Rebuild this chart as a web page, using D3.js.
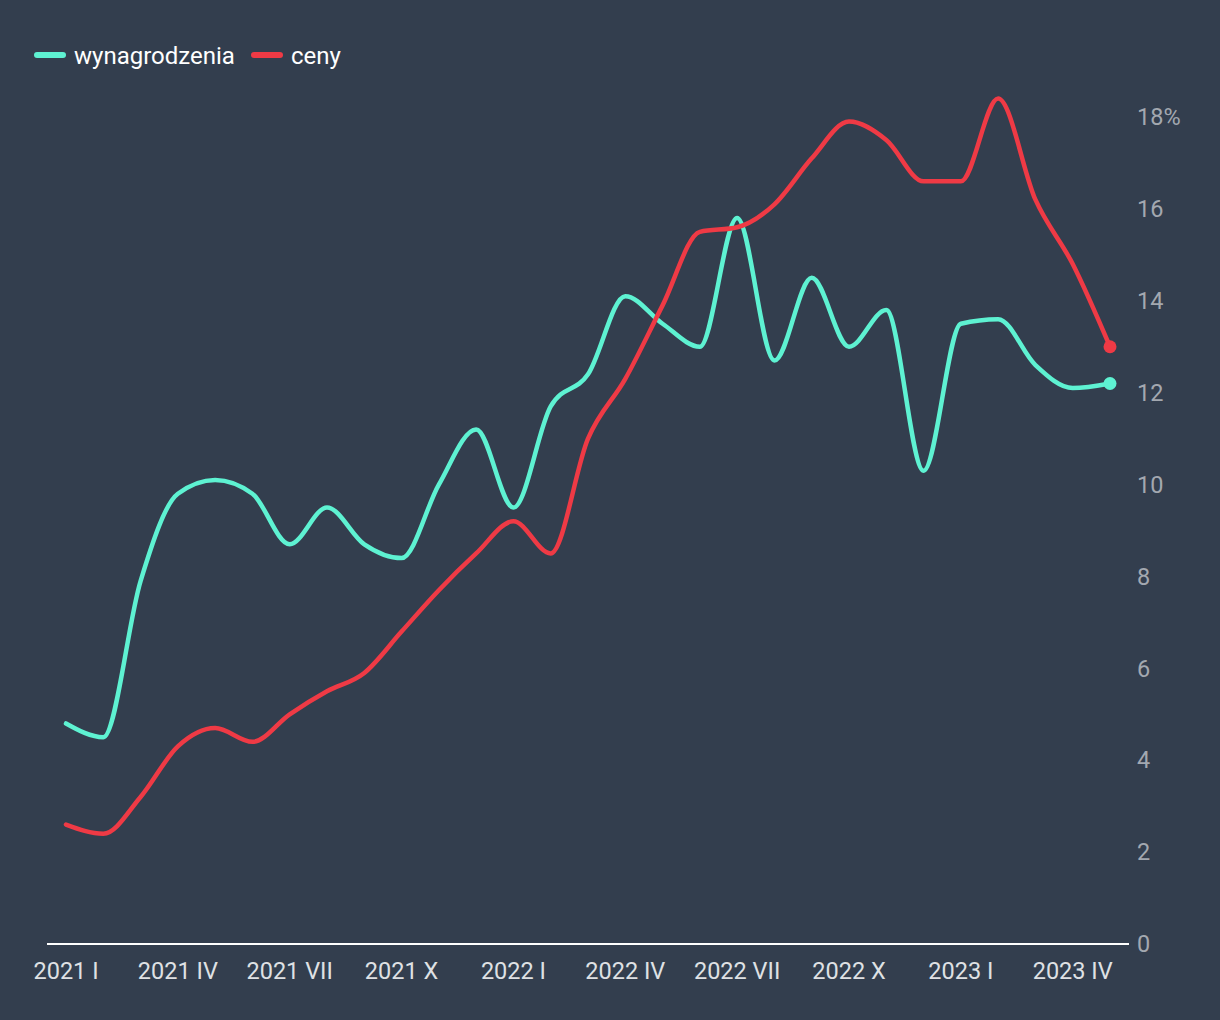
<!DOCTYPE html>
<html><head><meta charset="utf-8">
<script src="https://cdn.jsdelivr.net/npm/d3@7"></script>
<style>
html,body{margin:0;padding:0;background:#333e4e;}
svg{display:block;font-family:Roboto,"Noto Sans",sans-serif;}
</style></head>
<body>
<svg id="chart" width="1220" height="1020"></svg>
<script>
const months = ["2021 I","2021 II","2021 III","2021 IV","2021 V","2021 VI","2021 VII","2021 VIII","2021 IX","2021 X","2021 XI","2021 XII",
"2022 I","2022 II","2022 III","2022 IV","2022 V","2022 VI","2022 VII","2022 VIII","2022 IX","2022 X","2022 XI","2022 XII",
"2023 I","2023 II","2023 III","2023 IV","2023 V"];
const wynagrodzenia = [4.8,4.5,7.9,9.8,10.1,9.8,8.7,9.5,8.7,8.4,10.0,11.2,9.5,11.7,12.4,14.1,13.5,13.0,15.8,12.7,14.5,13.0,13.8,10.3,13.5,13.6,12.6,12.1,12.2];
const ceny = [2.6,2.4,3.2,4.3,4.7,4.4,5.0,5.5,5.9,6.8,7.7,8.5,9.2,8.5,11.0,12.3,13.9,15.5,15.6,16.1,17.1,17.9,17.5,16.6,16.6,18.4,16.2,14.8,13.0];
const xTickLabels = ["2021 I","2021 IV","2021 VII","2021 X","2022 I","2022 IV","2022 VII","2022 X","2023 I","2023 IV"];
const yTicks = [0,2,4,6,8,10,12,14,16,18];
const seriesNames = ["wynagrodzenia","ceny"];
const colors = ["#5ef2d2","#ef3a45"];

const svg = d3.select("#chart");
const x = d3.scalePoint().domain(months).range([66,1110]);
const y = d3.scaleLinear().domain([0,18]).range([944,117]);

// baseline
svg.append("line").attr("x1",47).attr("x2",1129).attr("y1",y(0)).attr("y2",y(0))
  .attr("stroke","#ffffff").attr("stroke-width",2);

// y labels
svg.append("g").selectAll("text").data(yTicks).join("text")
  .attr("x",1137).attr("y",d=>y(d)).attr("dy","0.35em")
  .attr("fill","#a3a8b0").attr("font-size",23.5)
  .text(d=> d===18 ? "18%" : d);

// x labels
svg.append("g").selectAll("text").data(xTickLabels).join("text")
  .attr("x",d=>x(d)).attr("y",979).attr("text-anchor","middle")
  .attr("fill","#dfe1e4").attr("font-size",23.5)
  .text(d=>d);

const line = d3.line().x((d,i)=>x(months[i])).y(d=>y(d)).curve(d3.curveMonotoneX);
[wynagrodzenia, ceny].forEach((s,k)=>{
  svg.append("path").attr("d",line(s)).attr("fill","none")
    .attr("stroke",colors[k]).attr("stroke-width",4.5)
    .attr("stroke-linejoin","round").attr("stroke-linecap","round");
  svg.append("circle").attr("cx",x(months[months.length-1])).attr("cy",y(s[s.length-1]))
    .attr("r",6.5).attr("fill",colors[k]);
});

// legend
const leg = [{name:seriesNames[0],lx:37,tx:74},{name:seriesNames[1],lx:254,tx:291}];
leg.forEach((l,k)=>{
  svg.append("line").attr("x1",l.lx).attr("x2",l.lx+26).attr("y1",55).attr("y2",55)
    .attr("stroke",colors[k]).attr("stroke-width",6).attr("stroke-linecap","round");
  svg.append("text").attr("x",l.tx).attr("y",56).attr("dy","0.35em")
    .attr("fill","#ffffff").attr("font-size",24).text(l.name);
});
</script>
</body></html>
